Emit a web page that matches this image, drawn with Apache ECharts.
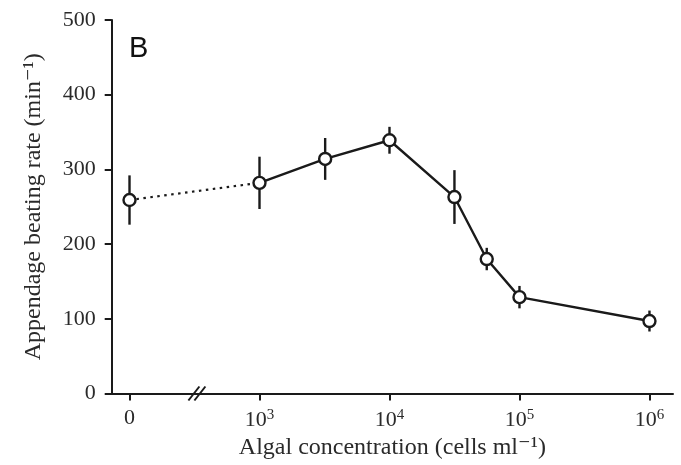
<!DOCTYPE html>
<html>
<head>
<meta charset="utf-8">
<script src="https://cdn.jsdelivr.net/npm/echarts@6/dist/echarts.min.js"></script>
<style>html,body{margin:0;padding:0;background:#fff}#c{width:681px;height:465px}</style>
</head>
<body>
<div id="c"></div>
<script>
// Data
var concentrations = [0, 1e3, 3.2e3, 1e4, 3.16e4, 5.6e4, 1e5, 1e6]; // cells ml-1
var rates = [259, 282, 314, 339, 263, 180, 129, 97];                 // min-1
var errors = [33, 35, 28, 18, 36, 15, 15, 14];
var xTickValues = [2, 3, 4, 5, 6];          // axis positions (2 stands for "0")
var xTickLabels = ['0', '10{s|3}', '10{s|4}', '10{s|5}', '10{s|6}'];
var yTicks = [0, 100, 200, 300, 400, 500];

// map concentration to axis position: log10, with 0 placed one decade before 10^3
function pos(c) { return c === 0 ? 2 : Math.log10(c); }

var pts = concentrations.map(function (c, i) { return [pos(c), rates[i]]; });
var dotted = pts.slice(0, 2);
var solid = pts.slice(1);
var errData = concentrations.map(function (c, i) { return [pos(c), rates[i] - errors[i], rates[i] + errors[i]]; });

var serif = '"Liberation Serif", "DejaVu Serif", serif';
var ink = '#1a1a1a';
var txt = '#2a2a2a';
var chart = echarts.init(document.getElementById('c'));
chart.setOption({
  animation: false,
  grid: { left: 111.7, right: 8, top: 20, bottom: 71.5, containLabel: false },
  xAxis: {
    type: 'value', min: 1.863, max: 6.181,
    splitLine: { show: false },
    axisLine: { onZero: false, lineStyle: { color: ink, width: 2 } },
    axisTick: { customValues: xTickValues, length: 7, lineStyle: { color: ink, width: 2 } },
    axisLabel: {
      customValues: xTickValues, margin: 14,
      fontFamily: serif, fontSize: 22, color: txt,
      formatter: function (v) { var i = xTickValues.indexOf(Math.round(v)); return xTickLabels[i]; },
      rich: { s: { fontFamily: serif, fontSize: 15, color: txt, verticalAlign: 'top', padding: [0, 0, 10, 0] } }
    },
    name: 'Algal concentration (cells ml\u207B\u00B9)', nameLocation: 'middle', nameGap: 40,
    nameTextStyle: { fontFamily: serif, fontSize: 24, color: txt }
  },
  yAxis: {
    type: 'value', min: yTicks[0], max: yTicks[yTicks.length - 1], interval: 100,
    splitLine: { show: false },
    axisLine: { show: true, lineStyle: { color: ink, width: 2 } },
    axisTick: { show: true, length: 7, lineStyle: { color: ink, width: 2 } },
    axisLabel: { fontFamily: serif, fontSize: 22, color: txt, margin: 16 },
    name: 'Appendage beating rate (min\u207B\u00B9)', nameLocation: 'middle', nameGap: 66,
    nameTextStyle: { fontFamily: serif, fontSize: 24, color: txt }
  },
  series: [
    {
      type: 'custom', z: 2,
      data: errData,
      renderItem: function (params, api) {
        var top = api.coord([api.value(0), api.value(2)]);
        var bot = api.coord([api.value(0), api.value(1)]);
        return { type: 'line', shape: { x1: top[0], y1: top[1], x2: bot[0], y2: bot[1] },
                 style: { stroke: ink, lineWidth: 2.4 } };
      }
    },
    {
      type: 'line', z: 3, data: dotted, symbol: 'none',
      lineStyle: { color: ink, width: 2.2, type: [2.5, 4.5] }
    },
    {
      type: 'line', z: 4, data: solid, symbol: 'none',
      lineStyle: { color: ink, width: 2.4 }
    },
    {
      type: 'scatter', z: 5, data: pts, symbol: 'circle', symbolSize: 12,
      itemStyle: { color: '#fff', borderColor: ink, borderWidth: 2.4, opacity: 1 }
    }
  ]
});

// axis break mark "//" and panel letter
var bp = chart.convertToPixel({ xAxisIndex: 0, yAxisIndex: 0 }, [2.53, 0]);
chart.setOption({
  graphic: [
    { type: 'line', shape: { x1: bp[0] - 10, y1: bp[1] + 7, x2: bp[0] + 1, y2: bp[1] - 7 }, style: { stroke: ink, lineWidth: 2 } },
    { type: 'line', shape: { x1: bp[0] - 4, y1: bp[1] + 7, x2: bp[0] + 7, y2: bp[1] - 7 }, style: { stroke: ink, lineWidth: 2 } },
    { type: 'text', x: 129, y: 49, style: { text: 'B', fontFamily: '"Liberation Sans", Arial, sans-serif', fontSize: 29, fill: '#111', verticalAlign: 'middle', align: 'left' } }
  ]
});
</script>
</body>
</html>
